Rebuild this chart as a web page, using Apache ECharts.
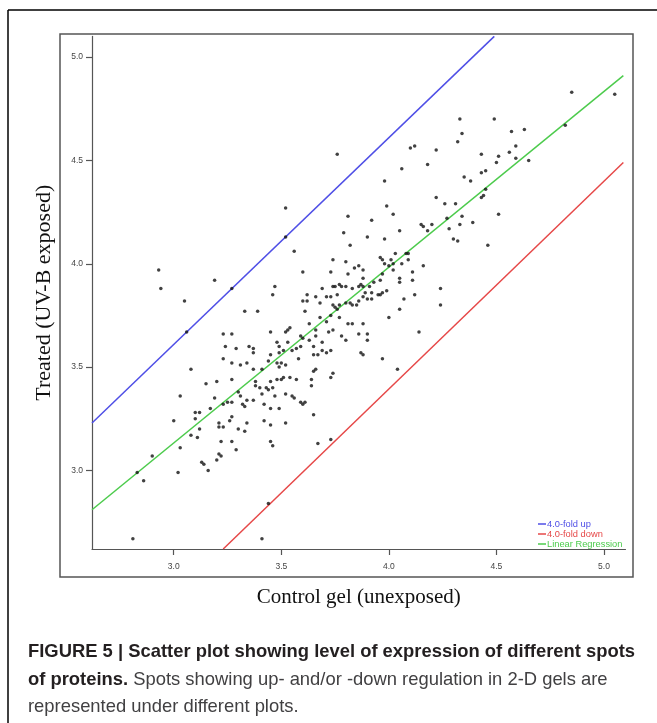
<!DOCTYPE html>
<html><head><meta charset="utf-8">
<script src="https://cdn.jsdelivr.net/npm/echarts@6/dist/echarts.min.js"></script>
<style>html,body{margin:0;padding:0;background:#fff}#c{width:657px;height:723px}</style>
</head><body><div id="c"></div>
<script>
const xTicks = [3.0, 3.5, 4.0, 4.5, 5.0];
const yTicks = [3.0, 3.5, 4.0, 4.5, 5.0];
const seriesNames = ['4.0-fold up', '4.0-fold down', 'Linear Regression'];
const foldUp = [[2.62, 3.23], [4.49, 5.10]];
const foldDown = [[3.23, 2.62], [5.09, 4.49]];
const regression = [[2.62, 2.81], [5.09, 4.91]];
const spots = [
[3.76,4.53],[3.52,4.27],[3.52,4.13],[3.81,4.23],[3.79,4.15],[3.90,4.13],[3.82,4.09],[3.56,4.06],[3.74,4.02],[3.80,4.01],[3.86,3.99],[3.84,3.98],[3.88,3.97],[2.93,3.97],[3.60,3.96],[3.73,3.96],[3.81,3.95],[3.19,3.92],[3.88,3.93],[3.47,3.89],[2.94,3.88],[3.27,3.88],
[3.05,3.82],[3.06,3.67],[3.46,3.85],[3.33,3.77],[3.39,3.77],[3.23,3.66],[3.27,3.66],[3.24,3.60],[3.29,3.59],[3.35,3.60],[3.37,3.59],[3.37,3.57],[3.23,3.54],[3.27,3.52],[3.08,3.49],[3.31,3.51],[3.34,3.52],[3.37,3.49],[3.41,3.49],[3.15,3.42],[3.20,3.43],[3.27,3.44],[3.30,3.38],[3.31,3.36],[3.03,3.36],[3.19,3.35],[3.17,3.30],[3.23,3.32],[3.25,3.33],[3.27,3.33],[3.32,3.32],[3.33,3.31],[3.34,3.34],[3.37,3.34],[3.10,3.28],[3.12,3.28],[3.10,3.25],[3.27,3.26],[3.26,3.24],[3.00,3.24],[3.21,3.23],[3.21,3.21],[3.23,3.21],[3.12,3.20],[3.30,3.20],[3.33,3.19],[3.34,3.23],[3.08,3.17],[3.11,3.16],[3.22,3.14],[3.27,3.14],[3.29,3.10],[3.03,3.11],[2.90,3.07],[3.21,3.08],[3.22,3.07],[3.20,3.05],[3.13,3.04],[3.14,3.03],[3.16,3.00],[3.02,2.99],[2.83,2.99],[2.86,2.95],[3.44,2.84],[2.81,2.67],[3.41,2.67],
[3.42,3.32],[3.45,3.30],[3.49,3.30],[3.42,3.24],[3.45,3.22],[3.52,3.23],[3.45,3.14],[3.46,3.12],[3.67,3.13],[3.73,3.15],[3.65,3.27],[3.59,3.33],[3.60,3.32],[3.61,3.33],[3.52,3.37],[3.55,3.36],[3.56,3.35],[3.47,3.36],[3.38,3.43],[3.38,3.41],[3.40,3.40],[3.41,3.37],[3.43,3.40],[3.44,3.39],[3.45,3.43],[3.46,3.40],[3.48,3.44],[3.50,3.44],[3.51,3.45],[3.54,3.45],[3.57,3.44],[3.64,3.44],[3.64,3.41],[3.65,3.48],[3.66,3.49],[3.73,3.45],[3.74,3.47],[3.44,3.53],[3.48,3.52],[3.49,3.50],[3.50,3.52],[3.52,3.51],[3.45,3.56],[3.49,3.57],[3.51,3.58],[3.58,3.54],[3.55,3.58],[3.57,3.59],[3.59,3.60],[3.65,3.60],[3.69,3.58],[3.71,3.57],[3.73,3.58],[3.48,3.62],[3.49,3.60],[3.53,3.62],[3.65,3.56],[3.67,3.56],[3.45,3.67],[3.52,3.67],[3.53,3.68],[3.54,3.69],[3.59,3.65],[3.60,3.64],[3.63,3.63],[3.66,3.65],[3.69,3.62],[3.63,3.71],[3.66,3.68],[3.72,3.67],[3.74,3.68],[3.61,3.77],[3.68,3.74],[3.71,3.72],[3.73,3.75],[3.60,3.82],[3.62,3.82],[3.62,3.85],[3.68,3.81],[3.66,3.84],[3.69,3.88],[3.71,3.84],[3.73,3.84],[3.74,3.89],[3.76,3.85],[3.75,3.89],[3.77,3.90],[3.78,3.89],[3.80,3.89],[3.83,3.88],[3.86,3.89],[3.87,3.90],[3.74,3.80],[3.75,3.79],[3.76,3.78],[3.77,3.80],[3.80,3.81],[3.82,3.81],[3.83,3.80],[3.85,3.80],[3.86,3.82],[3.88,3.84],[3.90,3.83],[3.88,3.89],[3.91,3.89],[3.89,3.86],[3.77,3.74],[3.81,3.71],[3.83,3.71],[3.86,3.66],[3.78,3.65],[3.80,3.63],[3.90,3.66],[3.90,3.63],[3.87,3.57],[3.88,3.56],
[4.85,4.83],[5.05,4.82],[4.82,4.67],[4.33,4.70],[4.49,4.70],[4.34,4.63],[4.63,4.65],[4.57,4.64],[4.32,4.59],[4.10,4.56],[4.12,4.57],[4.22,4.55],[4.56,4.54],[4.59,4.57],[4.43,4.53],[4.51,4.52],[4.59,4.51],[4.65,4.50],[4.50,4.49],[4.18,4.48],[4.06,4.46],[3.98,4.40],[4.35,4.42],[4.38,4.40],[4.43,4.44],[4.45,4.45],[4.45,4.36],[4.44,4.33],[4.43,4.32],[4.22,4.32],[3.99,4.28],[4.02,4.24],[4.26,4.29],[4.31,4.29],[4.51,4.24],[3.92,4.21],[4.27,4.22],[4.34,4.23],[4.15,4.19],[4.16,4.18],[4.20,4.19],[4.18,4.16],[4.33,4.19],[4.39,4.20],[4.05,4.16],[4.28,4.17],[3.98,4.12],[4.30,4.12],[4.32,4.11],[4.46,4.09],[4.03,4.05],[4.08,4.05],[4.09,4.05],[4.09,4.02],[3.96,4.03],[3.97,4.02],[4.01,4.02],[3.98,4.00],[4.00,3.99],[4.02,4.00],[4.06,4.00],[4.02,3.97],[4.16,3.99],[4.11,3.96],[4.11,3.92],[3.97,3.95],[3.96,3.92],[3.93,3.91],[4.05,3.93],[4.05,3.91],[4.24,3.88],
[3.92,3.86],[3.92,3.83],[3.95,3.85],[3.96,3.85],[3.97,3.86],[3.99,3.87],[4.05,3.78],[4.07,3.83],[4.12,3.85],[4.24,3.80],[4.00,3.74],[3.88,3.71],[4.14,3.67],[3.97,3.54],[4.04,3.49]
];

const colors = { up: '#4f4fe6', down: '#e64848', reg: '#4ccb4c' };
const chart = echarts.init(document.getElementById('c'), null, { renderer: 'canvas' });
const axisCommon = {
  type: 'value', min: 2.62, max: 5.1,
  nameLocation: 'middle',
  nameTextStyle: { fontFamily: 'Liberation Serif', fontSize: 21, color: '#111' },
  axisLine: { show: true, lineStyle: { color: '#555', width: 1.2 } },
  axisTick: { show: true, length: 6, lineStyle: { color: '#555', width: 1.2 } },
  axisLabel: { fontSize: 8.5, color: '#444', fontFamily: 'Liberation Sans', formatter: v => v.toFixed(1) },
  splitLine: { show: false }
};
chart.setOption({
  animation: false,
  backgroundColor: '#fff',
  grid: { left: 92, top: 36.4, width: 533.5, height: 512.6, containLabel: false, outerBoundsMode: 'none' },
  xAxis: Object.assign({}, axisCommon, {
    name: 'Control gel (unexposed)', nameGap: 38,
    axisTick: Object.assign({}, axisCommon.axisTick, { customValues: xTicks }),
    axisLabel: Object.assign({}, axisCommon.axisLabel, { customValues: xTicks, margin: 13 })
  }),
  yAxis: Object.assign({}, axisCommon, {
    name: 'Treated (UV-B exposed)', nameGap: 37,
    nameTextStyle: { fontFamily: 'Liberation Serif', fontSize: 22, color: '#111' },
    axisTick: Object.assign({}, axisCommon.axisTick, { customValues: yTicks }),
    axisLabel: Object.assign({}, axisCommon.axisLabel, { customValues: yTicks, margin: 9 })
  }),
  legend: {
    orient: 'vertical', left: 538, top: 519, padding: 0, itemGap: 0,
    itemWidth: 8, itemHeight: 1.5, icon: 'rect', selectedMode: false,
    textStyle: { fontSize: 9.3, fontFamily: 'Liberation Sans', lineHeight: 10, padding: [0, 0, 0, -4] },
    data: [
      { name: seriesNames[0], textStyle: { color: colors.up } },
      { name: seriesNames[1], textStyle: { color: colors.down } },
      { name: seriesNames[2], textStyle: { color: colors.reg } }
    ]
  },
  series: [
    { type: 'scatter', name: 'spots', data: spots, symbolSize: 3.5, itemStyle: { color: '#111' }, z: 3 },
    { type: 'line', name: seriesNames[0], data: foldUp, showSymbol: false, symbol: 'none', lineStyle: { color: colors.up, width: 1.5 }, itemStyle: { color: colors.up }, z: 2 },
    { type: 'line', name: seriesNames[1], data: foldDown, showSymbol: false, symbol: 'none', lineStyle: { color: colors.down, width: 1.5 }, itemStyle: { color: colors.down }, z: 2 },
    { type: 'line', name: seriesNames[2], data: regression, showSymbol: false, symbol: 'none', lineStyle: { color: colors.reg, width: 1.5 }, itemStyle: { color: colors.reg }, z: 2 }
  ],
  graphic: [
    { type: 'line', shape: { x1: 8, y1: 10, x2: 657, y2: 10 }, style: { stroke: '#000', lineWidth: 1.5 } },
    { type: 'line', shape: { x1: 8, y1: 10, x2: 8, y2: 723 }, style: { stroke: '#000', lineWidth: 1.5 } },
    { type: 'rect', shape: { x: 60, y: 34, width: 573, height: 543 }, style: { fill: 'none', stroke: '#555', lineWidth: 1.5 } },
    { type: 'text', left: 28, top: 643, style: { text: 'FIGURE 5 | Scatter plot showing level of expression of different spots', fontSize: 18.4, fontWeight: 'bold', fontFamily: 'Liberation Sans', fill: '#231f20' } },
    { type: 'text', left: 28, top: 671, style: { text: '{b|of proteins.}{r| Spots showing up- and/or -down regulation in 2-D gels are}', rich: { b: { fontSize: 18.4, fontWeight: 'bold', fontFamily: 'Liberation Sans', fill: '#231f20', color: '#231f20' }, r: { fontSize: 18.4, fontFamily: 'Liberation Sans', fill: '#414042', color: '#414042' } } } },
    { type: 'text', left: 28, top: 698, style: { text: 'represented under different plots.', fontSize: 18.4, fontFamily: 'Liberation Sans', fill: '#414042' } }
  ]
});
</script></body></html>
